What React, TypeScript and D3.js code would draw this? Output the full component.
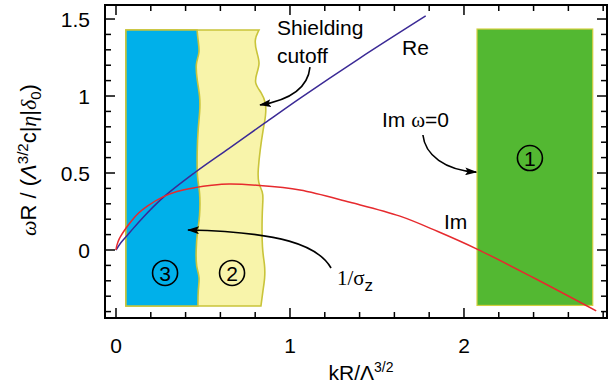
import React from 'react';
import * as d3 from 'd3';

const W = 608;
const H = 387;

// axis domains (data units)
const X_DOMAIN: [number, number] = [-0.0632, 2.822];
const Y_DOMAIN: [number, number] = [-0.4416, 1.591];
const X_TICK_LABELS = [0, 1, 2];
const Y_TICK_LABELS = [0, 0.5, 1, 1.5];

// Re(omega) curve
const reK = [0, 0.03, 0.08, 0.15, 0.27, 0.45, 0.65, 0.856, 1.057, 1.4, 1.78];
const reW = [0, 0.05, 0.115, 0.205, 0.34, 0.5, 0.66, 0.825, 0.985, 1.245, 1.52];

// Im(omega) curve
const imK = [0, 0.005, 0.02, 0.05, 0.09, 0.13, 0.18, 0.27, 0.35, 0.454, 0.55, 0.65, 0.81, 1.057, 1.345, 1.632, 1.85, 2.075, 2.4, 2.76];
const imW = [0, 0.03, 0.075, 0.13, 0.19, 0.24, 0.285, 0.345, 0.38, 0.405, 0.42, 0.428, 0.42, 0.39, 0.31, 0.22, 0.12, 0.006, -0.18, -0.395];

// regions
const regionTop = 1.429;
const regionBottom = -0.364;
const regionLeft = 0.057;
// blue / yellow boundary (y -> x)
const b3Y = [1.429, 1.364, 1.279, 1.214, 1.104, 0.994, 0.909, 0.779, 0.649, 0.455, 0.39, 0.214, 0.11, 0, -0.11, -0.175, -0.26, -0.364];
const b3X = [0.466, 0.471, 0.483, 0.456, 0.466, 0.483, 0.483, 0.471, 0.466, 0.466, 0.483, 0.483, 0.466, 0.46, 0.46, 0.483, 0.471, 0.471];
// yellow right edge (y -> x)
const b2Y = [1.429, 1.364, 1.279, 1.214, 1.149, 1.084, 1.019, 0.955, 0.877, 0.779, 0.649, 0.519, 0.435, 0.377, 0.325, 0.227, 0, -0.097, -0.182, -0.26, -0.364];
const b2X = [0.822, 0.793, 0.81, 0.828, 0.81, 0.793, 0.839, 0.862, 0.862, 0.845, 0.828, 0.816, 0.816, 0.845, 0.845, 0.839, 0.839, 0.856, 0.856, 0.845, 0.833];
// region 1 (green)
const r1X = [2.075, 2.74];
const r1Y = [-0.36, 1.435];

// annotations (data units)
const circled = [
  { n: '3', k: 0.282, w: -0.149 },
  { n: '2', k: 0.667, w: -0.149 },
  { n: '1', k: 2.379, w: 0.597 },
];
const arrowShield = [[1.115, 1.188], [1.103, 1.052], [1.0, 0.974], [0.828, 0.942]];
const arrowIm0 = [[1.764, 0.747], [1.776, 0.617], [1.891, 0.519], [2.07, 0.506]];
const arrowSigma = [[1.236, -0.117], [1.161, 0.032], [0.943, 0.117], [0.414, 0.13]];

const FONT = '"Liberation Sans", Arial, Helvetica, sans-serif';
const SERIF = '"Liberation Serif", "Times New Roman", serif';

export default function App() {
  const x = d3.scaleLinear().domain(X_DOMAIN).range([105, 607]);
  const y = d3.scaleLinear().domain(Y_DOMAIN).range([318, 5]);

  const line = d3.line<[number, number]>().x(d => x(d[0])).y(d => y(d[1])).curve(d3.curveCatmullRom.alpha(0.5));
  const rePath = line(reK.map((k, i) => [k, reW[i]]) as [number, number][]) || '';
  const imPath = line(imK.map((k, i) => [k, imW[i]]) as [number, number][]) || '';

  const wave = d3.line<[number, number]>().x(d => x(d[0])).y(d => y(d[1])).curve(d3.curveBasis);
  const regionPath = (xs: number[], ys: number[]) => {
    const pts = ys.map((v, i) => [xs[i], v]) as [number, number][];
    const w = (wave(pts) || '').replace(/^M/, 'L');
    return `M${x(regionLeft)},${y(regionTop)}${w}L${x(regionLeft)},${y(regionBottom)}Z`;
  };
  const yellowPath = regionPath(b2X, b2Y);
  const bluePath = regionPath(b3X, b3Y);

  const cub = (p: number[][]) =>
    `M${x(p[0][0])},${y(p[0][1])}C${x(p[1][0])},${y(p[1][1])} ${x(p[2][0])},${y(p[2][1])} ${x(p[3][0])},${y(p[3][1])}`;

  const xMinor = d3.range(0, 2.81, 0.2);
  const yMinor = d3.range(-4, 16, 1).map(v => v / 10);
  const isMajorX = (v: number) => Math.abs(v - Math.round(v)) < 1e-6;
  const isMajorY = (v: number) => Math.abs(v * 2 - Math.round(v * 2)) < 1e-6;

  const x0 = 105, x1 = 607, yT = 5, yB = 318;
  const olive = '#c9c43a';

  return (
    <div style={{ position: 'absolute', left: 0, top: 0, width: W, height: H, background: '#fff' }}>
      <svg width={W} height={H} viewBox={`0 0 ${W} ${H}`} style={{ display: 'block' }}>
        <defs>
          <marker id="ah" viewBox="0 0 12 8" refX="11" refY="4" markerWidth="12" markerHeight="8" markerUnits="userSpaceOnUse" orient="auto">
            <path d="M0,0 L12,4 L0,8 L2.5,4 Z" fill="#000" />
          </marker>
        </defs>
        {/* regions */}
        <path d={yellowPath} fill="#f8f4aa" stroke={olive} strokeWidth={1.6} />
        <path d={bluePath} fill="#00b0ea" stroke={olive} strokeWidth={1.6} />
        <rect x={x(r1X[0])} y={y(r1Y[1])} width={x(r1X[1]) - x(r1X[0])} height={y(r1Y[0]) - y(r1Y[1])}
          fill="#53b832" stroke="#d2cf3e" strokeWidth={1.2} />

        {/* curves */}
        <path d={rePath} fill="none" stroke="#3b2a96" strokeWidth={1.5} />
        <path d={imPath} fill="none" stroke="#e62a2e" strokeWidth={1.5} />

        {/* frame */}
        <rect x={x0} y={yT} width={x1 - x0} height={yB - yT} fill="none" stroke="#000" strokeWidth={2} />
        {xMinor.map((v, i) => {
          const L = isMajorX(v) ? 10 : 6;
          return (
            <g key={'xt' + i}>
              <line x1={x(v)} x2={x(v)} y1={yB} y2={yB - L} stroke="#000" strokeWidth={1.5} />
              <line x1={x(v)} x2={x(v)} y1={yT} y2={yT + L} stroke="#000" strokeWidth={1.5} />
            </g>
          );
        })}
        {yMinor.map((v, i) => {
          const L = isMajorY(v) ? 10 : 6;
          return (
            <g key={'yt' + i}>
              <line x1={x0} x2={x0 + L} y1={y(v)} y2={y(v)} stroke="#000" strokeWidth={1.5} />
              <line x1={x1} x2={x1 - L} y1={y(v)} y2={y(v)} stroke="#000" strokeWidth={1.5} />
            </g>
          );
        })}
        {X_TICK_LABELS.map(v => (
          <text key={'xl' + v} x={x(v)} y={353} textAnchor="middle" fontFamily={FONT} fontSize={21}>{v}</text>
        ))}
        {Y_TICK_LABELS.map(v => (
          <text key={'yl' + v} x={90} y={y(v)} dy="0.36em" textAnchor="end" fontFamily={FONT} fontSize={21}>{v}</text>
        ))}

        {/* axis titles */}
        <text x={361} y={380} textAnchor="middle" fontFamily={FONT} fontSize={21}>
          kR/Λ<tspan dy={-8} fontSize={14}>3/2</tspan>
        </text>
        <text transform="translate(36,236) rotate(-90)" textAnchor="start" fontFamily={FONT} fontSize={22}>
          <tspan fontStyle="italic" fontFamily={SERIF}>ω</tspan>R / (<tspan fontStyle="italic">Λ</tspan>
          <tspan dy={-8} fontSize={15}>3/2</tspan>
          <tspan dy={8}>c|</tspan>
          <tspan fontStyle="italic" fontFamily={SERIF}>η</tspan>|<tspan fontStyle="italic" fontFamily={SERIF}>δ</tspan>
          <tspan dy={5} fontSize={15}>0</tspan>
          <tspan dy={-5}>)</tspan>
        </text>

        {/* annotations */}
        <path d={cub(arrowShield)} fill="none" stroke="#000" strokeWidth={1.6} markerEnd="url(#ah)" />
        <path d={cub(arrowIm0)} fill="none" stroke="#000" strokeWidth={1.6} markerEnd="url(#ah)" />
        <path d={cub(arrowSigma)} fill="none" stroke="#000" strokeWidth={1.6} markerEnd="url(#ah)" />

        <text x={x(0.925)} y={y(1.396)} fontFamily={FONT} fontSize={21}>Shielding</text>
        <text x={x(0.925)} y={y(1.214)} fontFamily={FONT} fontSize={21}>cutoff</text>
        <text x={x(1.644)} y={y(1.266)} fontFamily={FONT} fontSize={21}>Re</text>
        <text x={x(1.529)} y={y(0.799)} fontFamily={FONT} fontSize={21}>
          Im <tspan fontFamily={SERIF}>ω</tspan>=0
        </text>
        <text x={x(1.885)} y={y(0.136)} fontFamily={FONT} fontSize={21}>Im</text>
        <text x={x(1.27)} y={y(-0.227)} fontFamily={SERIF} fontSize={21}>
          1/σ<tspan dy={6} fontFamily={FONT} fontSize={17}>z</tspan>
        </text>

        {circled.map(c => (
          <g key={'c' + c.n}>
            <circle cx={x(c.k)} cy={y(c.w)} r={12.5} fill="none" stroke="#000" strokeWidth={1.6} />
            <text x={x(c.k)} y={y(c.w)} dy="0.36em" textAnchor="middle" fontFamily={FONT} fontSize={21}>{c.n}</text>
          </g>
        ))}
      </svg>
    </div>
  );
}
